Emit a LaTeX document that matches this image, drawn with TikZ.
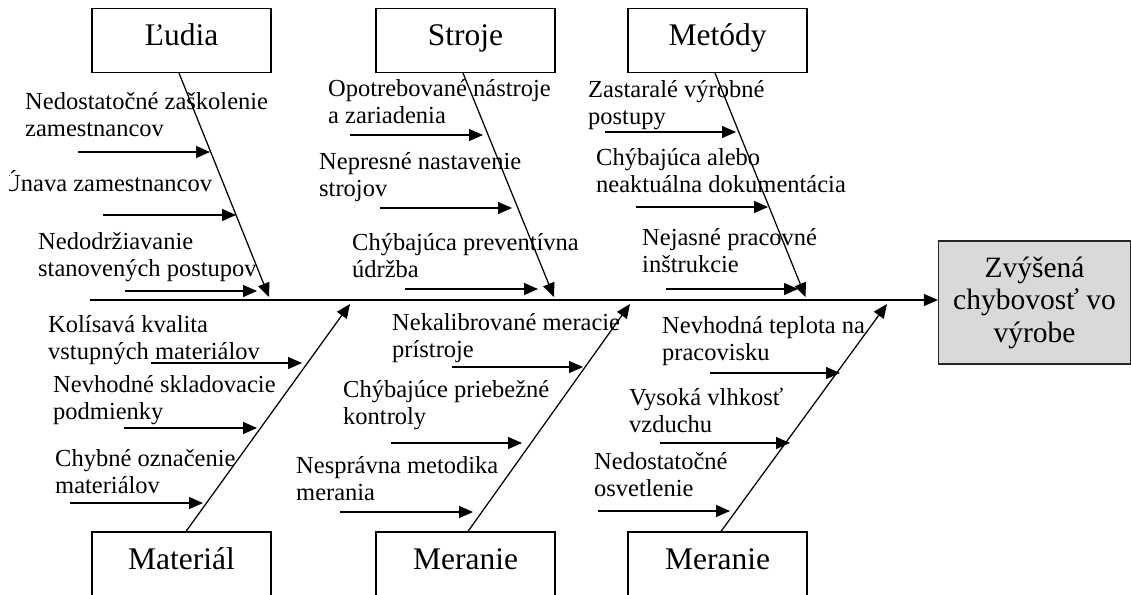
\documentclass[tikz,border=0pt]{standalone}
\usepackage{fontspec}
\setmainfont{Liberation Serif}
\usetikzlibrary{arrows.meta,calc}
\begin{document}
\begin{tikzpicture}[x=1pt,y=-1pt,
  catbox/.style={draw, line width=1.2pt, minimum width=179pt, minimum height=64pt, inner sep=0pt,
    text height=15pt, text depth=4.6pt, font=\fontsize{31.5}{34}\selectfont},
  lbl/.style={anchor=base west, inner sep=0pt, align=left, font=\fontsize{24.5}{27}\selectfont},
  bone/.style={line width=1.25pt, -{Triangle[length=14pt,width=12pt]}},
  subarrow/.style={line width=1.25pt, -{Triangle[length=14pt,width=12pt]}},
]
\useasboundingbox (0,0) rectangle (1131,594);
\clip (0,0) rectangle (1131,594);

% category boxes
\node[catbox] (ludia) at (181.5,40.5) {Ľudia};
\node[catbox] (stroje) at (465.5,40.5) {Stroje};
\node[catbox] (metody) at (717.5,40.5) {Metódy};
\node[catbox] (material) at (181.5,564) {Materiál};
\node[catbox] (meranieA) at (465.5,564) {Meranie};
\node[catbox] (meranieB) at (717.5,564) {Meranie};

% effect
\node[draw=black!85, fill=gray!30, line width=1.2pt, minimum width=192pt, minimum height=123pt,
      align=center, inner sep=0pt, font=\fontsize{29.5}{32.5}\selectfont] (effect) at (1034.5,302.5)
      {Zvýšená\\chybovosť vo\\výrobe};

% spine
\coordinate (tail) at (90,300);
\draw[bone] (tail) -- (tail -| effect.west);

% bones
\coordinate (ludiaTip) at (269,297);
\coordinate (strojeTip) at (554,297);
\coordinate (metodyTip) at (805.5,297);
\coordinate (materialTip) at (350,304);
\coordinate (meranieATip) at (630,304);
\coordinate (meranieBTip) at (887,304);
\draw[bone] ($(ludia.south)+(-2.5,0)$) -- (ludiaTip);
\draw[bone] ($(stroje.south)+(-2.5,0)$) -- (strojeTip);
\draw[bone] ($(metody.south)+(-2.5,0)$) -- (metodyTip);
\draw[bone] ($(material.north)+(4.5,0)$) -- (materialTip);
\draw[bone] ($(meranieA.north)+(2.5,0)$) -- (meranieATip);
\draw[bone] ($(meranieB.north)+(3.5,0)$) -- (meranieBTip);

% cause labels (anchor = baseline of the last line)
\node[lbl] (t1) at (25,136) {Nedostatočné zaškolenie\\zamestnancov};
\begin{scope}
  \clip (9,160) rectangle (300,205);
  \node[lbl] (t2) at (3,191) {Únava zamestnancov};
\end{scope}
\node[lbl] (t3) at (38,276) {Nedodržiavanie\\stanovených postupov};
\node[lbl] (t4) at (328,123) {Opotrebované nástroje\\a zariadenia};
\node[lbl] (t5) at (319,196) {Nepresné nastavenie\\strojov};
\node[lbl] (t6) at (352,277) {Chýbajúca preventívna\\údržba};
\node[lbl] (t7) at (588,124) {Zastaralé výrobné\\postupy};
\node[lbl] (t8) at (596,192) {Chýbajúca alebo\\neaktuálna dokumentácia};
\node[lbl] (t9) at (642,272) {Nejasné pracovné\\inštrukcie};
\node[lbl] (t10) at (48,359) {Kolísavá kvalita\\vstupných materiálov};
\node[lbl] (t11) at (53,419) {Nevhodné skladovacie\\podmienky};
\node[lbl] (t12) at (55,493) {Chybné označenie\\materiálov};
\node[lbl] (t13) at (392,357) {Nekalibrované meracie\\prístroje};
\node[lbl] (t14) at (343,424) {Chýbajúce priebežné\\kontroly};
\node[lbl] (t15) at (296,500) {Nesprávna metodika\\merania};
\node[lbl] (t16) at (662,360) {Nevhodná teplota na\\pracovisku};
\node[lbl] (t17) at (629,432) {Vysoká vlhkosť\\vzduchu};
\node[lbl] (t18) at (594,496) {Nedostatočné\\osvetlenie};

% cause arrows
\foreach \n/\xa/\xb/\yy in {a1/78/210/152, a2/103/236/215, a3/125/257/291,
    a4/350/483/135, a5/380/512/208, a6/405/538/289,
    a7/605/736/132, a8/636/768/207, a9/666/798/289,
    a10/151/302/363, a11/124/257/428, a12/70/203/503,
    a13/452/583/367, a14/391/522/443, a15/340/473/512,
    a16/710/840/373, a17/660/790/443, a18/598/730/511}{
  \coordinate (\n s) at (\xa,\yy);
  \coordinate (\n e) at (\xb,\yy);
  \draw[subarrow] (\n s) -- (\n e);
}
\end{tikzpicture}
\end{document}
